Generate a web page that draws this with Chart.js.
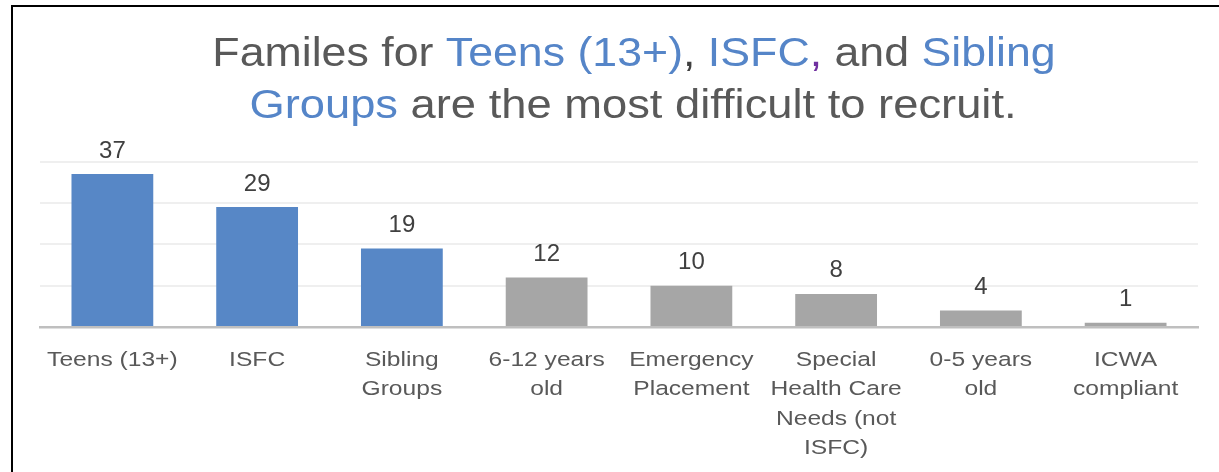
<!DOCTYPE html>
<html>
<head>
<meta charset="utf-8">
<script src="https://cdn.jsdelivr.net/npm/chart.js@4/dist/chart.umd.min.js"></script>
<style>
  html, body { margin: 0; padding: 0; background: #fff; width: 1219px; height: 472px; overflow: hidden; }
  #frame { position: absolute; left: 11px; top: 5px; width: 1400px; height: 700px;
           border-left: 2px solid #000; border-top: 2px solid #000; }
  #c { position: absolute; left: 0; top: 0; }
</style>
</head>
<body>
<div id="frame"></div>
<canvas id="c" width="1219" height="472"></canvas>
<script>
// Family types that agencies report as hardest to recruit for
const categories = [
  'Teens (13+)',
  'ISFC',
  ['Sibling', 'Groups'],
  ['6-12 years', 'old'],
  ['Emergency', 'Placement'],
  ['Special', 'Health Care', 'Needs (not', 'ISFC)'],
  ['0-5 years', 'old'],
  ['ICWA', 'compliant']
];
const responses = [37, 29, 19, 12, 10, 8, 4, 1];
const yTickValues = [0, 10, 20, 30, 40];

// Highlighted groups in blue, the rest in gray
const BLUE = '#5787C6';
const GRAY = '#A6A6A6';
const barColors = ['blue', 'blue', 'blue', 'gray', 'gray', 'gray', 'gray', 'gray']
  .map(c => (c === 'blue' ? BLUE : GRAY));

// Two-line title with highlighted words
const titleLines = [
  [
    { text: 'Familes for ', color: '#595959' },
    { text: 'Teens (13+)', color: '#5585C8' },
    { text: ', ', color: '#404040' },
    { text: 'ISFC', color: '#5585C8' },
    { text: ',', color: '#7030A0' },
    { text: ' and ', color: '#595959' },
    { text: 'Sibling', color: '#5585C8' }
  ],
  [
    { text: 'Groups', color: '#5585C8' },
    { text: ' are the most difficult to recruit.', color: '#595959' }
  ]
];

const FONT = '"Liberation Sans", Arial, sans-serif';

const titlePlugin = {
  id: 'richTitle',
  afterDraw(chart) {
    const ctx = chart.ctx;
    const size = 41, stretch = 1.09;
    const lines = [{ cx: 634, y: 66 }, { cx: 633, y: 118, stretch: 1.105 }];
    ctx.save();
    ctx.font = `${size}px ${FONT}`;
    ctx.textBaseline = 'alphabetic';
    ctx.textAlign = 'left';
    titleLines.forEach((segs, i) => {
      const s = lines[i].stretch || stretch;
      const w = segs.reduce((t, g) => t + ctx.measureText(g.text).width, 0) * s;
      let x = lines[i].cx - w / 2;
      segs.forEach(g => {
        ctx.save();
        ctx.translate(x, lines[i].y);
        ctx.scale(s, 1);
        ctx.fillStyle = g.color;
        ctx.fillText(g.text, 0, 0);
        ctx.restore();
        x += ctx.measureText(g.text).width * s;
      });
    });
    ctx.restore();
  }
};

const valueLabelPlugin = {
  id: 'valueLabels',
  afterDatasetsDraw(chart) {
    const ctx = chart.ctx;
    const meta = chart.getDatasetMeta(0);
    ctx.save();
    ctx.font = `24px ${FONT}`;
    ctx.fillStyle = '#404040';
    ctx.textAlign = 'center';
    ctx.textBaseline = 'alphabetic';
    meta.data.forEach((bar, i) => {
      ctx.fillText(String(chart.data.datasets[0].data[i]), bar.x, bar.y - 16.5);
    });
    ctx.restore();
  }
};

// Category labels are set in a slightly wide face: stretch each line horizontally
const LABEL_STRETCH = 1.2;
const wideLabelsPlugin = {
  id: 'wideLabels',
  afterUpdate(chart) {
    const scale = chart.scales.x;
    if (!scale || scale._wide) return;
    const original = scale.drawLabels;
    scale.drawLabels = function (area) {
      const ctx = this.ctx;
      const fill = ctx.fillText;
      ctx.fillText = function (text, x, y) {
        this.save();
        this.translate(x, y);
        this.scale(LABEL_STRETCH, 1);
        fill.call(this, text, 0, 0);
        this.restore();
      };
      try { original.call(this, area); } finally { ctx.fillText = fill; }
    };
    scale._wide = true;
  }
};

new Chart(document.getElementById('c'), {
  type: 'bar',
  data: {
    labels: categories,
    datasets: [{
      data: responses,
      backgroundColor: barColors,
      borderWidth: 0,
      categoryPercentage: 1,
      barPercentage: 0.565
    }]
  },
  options: {
    responsive: false,
    animation: false,
    events: [],
    layout: { padding: { left: 40, right: 21, top: 161.6, bottom: 0 } },
    plugins: { legend: { display: false }, title: { display: false }, tooltip: { enabled: false } },
    scales: {
      x: {
        grid: { display: false, drawTicks: false },
        border: { display: true, color: '#BFBFBF', width: 2.5 },
        ticks: {
          autoSkip: false,
          maxRotation: 0,
          minRotation: 0,
          padding: 18.1,
          color: '#595959',
          font: { family: FONT, size: 20.5, lineHeight: '29.5px' }
        },
        afterFit(scale) { scale.height = 145; }
      },
      y: {
        min: 0,
        max: 40,
        afterBuildTicks(scale) { scale.ticks = yTickValues.map(v => ({ value: v })); },
        ticks: { display: false },
        grid: { color: '#EFEFEF', lineWidth: 2, drawTicks: false },
        border: { display: false },
        afterFit(scale) { scale.width = 0; }
      }
    }
  },
  plugins: [titlePlugin, valueLabelPlugin, wideLabelsPlugin]
});
</script>
</body>
</html>
